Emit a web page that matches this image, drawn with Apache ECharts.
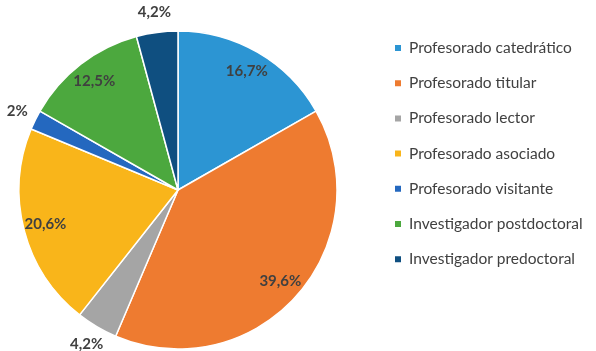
<!DOCTYPE html>
<html>
<head>
<meta charset="utf-8">
<script src="https://cdn.jsdelivr.net/npm/echarts@6/dist/echarts.min.js"></script>
<style>
  html, body { margin: 0; padding: 0; background: #fff; }
  #chart { width: 596px; height: 351px; }
</style>
</head>
<body>
<div id="chart"></div>
<script>
// Distribución del personal por categoría (%)
const categories = [
  'Profesorado catedrático',
  'Profesorado titular',
  'Profesorado lector',
  'Profesorado asociado',
  'Profesorado visitante',
  'Investigador postdoctoral',
  'Investigador predoctoral'
];
const percentages = [16.7, 39.6, 4.2, 20.6, 2, 12.5, 4.2];
const colors = ['#2C95D3', '#EE7B30', '#A5A5A5', '#F9B51A', '#2468BF', '#4CA83E', '#0F4F80'];

const fmt = v => String(v).replace('.', ',') + '%';
const SMALL = 5; // slices below this share get their label outside the pie

const center = [178, 190];
const labelFont = { fontFamily: 'Lato', fontWeight: 'bold', fontSize: 15, color: '#404040' };

const baseData = categories.map((name, i) => ({ name, value: percentages[i] }));

const chart = echarts.init(document.getElementById('chart'), null, { renderer: 'canvas' });
chart.setOption({
  animation: false,
  color: colors,
  legend: {
    orient: 'vertical',
    left: 388,
    top: 35,
    itemGap: 19.2,
    itemWidth: 8,
    itemHeight: 8,
    icon: 'rect',
    data: categories,
    textStyle: { fontFamily: 'Lato', fontSize: 15.5, color: '#404040', padding: [0, 0, 0, 2] },
    selectedMode: false
  },
  series: [
    {
      type: 'pie',
      center,
      radius: [0, 159],
      startAngle: 90,
      clockwise: true,
      silent: true,
      data: baseData,
      itemStyle: { borderColor: '#ffffff', borderWidth: 1.5 },
      label: { show: false },
      labelLine: { show: false }
    },
    {
      // ring used only to place the labels of the larger slices
      type: 'pie',
      center,
      radius: [109, 159],
      startAngle: 90,
      clockwise: true,
      silent: true,
      data: baseData.map(d => ({
        ...d,
        label: { show: d.value >= SMALL }
      })),
      itemStyle: { color: 'rgba(0,0,0,0)' },
      label: { position: 'inside', formatter: p => fmt(p.value), ...labelFont },
      labelLine: { show: false }
    },
    {
      // ring used only to place the labels of the small slices
      type: 'pie',
      center,
      radius: [167, 185],
      startAngle: 90,
      clockwise: true,
      silent: true,
      data: baseData.map(d => ({
        ...d,
        label: { show: d.value < SMALL }
      })),
      itemStyle: { color: 'rgba(0,0,0,0)' },
      label: { position: 'inside', formatter: p => fmt(p.value), ...labelFont },
      labelLine: { show: false }
    }
  ]
});
</script>
</body>
</html>
